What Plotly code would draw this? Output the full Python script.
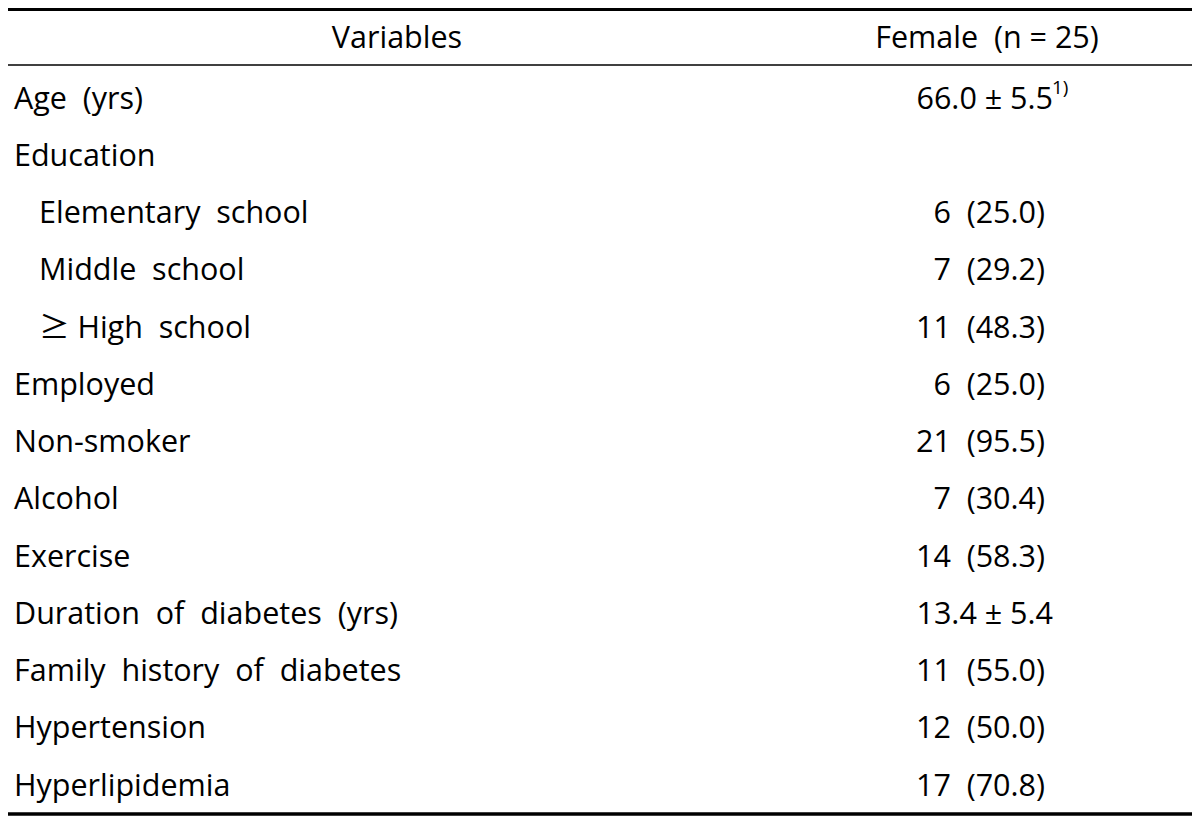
import plotly.graph_objects as go

NB = "\u00a0"
GE = '<span style="font-family:Noto Sans CJK KR">\u2265</span>'

# ---- data ----
header_left = "Variables"
header_right = "Female" + NB * 2 + "(n = 25)"

variables = [
    "Age" + NB * 2 + "(yrs)",
    "Education",
    "Elementary" + NB * 2 + "school",
    "Middle" + NB * 2 + "school",
    GE + NB + "High" + NB * 2 + "school",
    "Employed",
    "Non-smoker",
    "Alcohol",
    "Exercise",
    "Duration" + NB * 2 + "of" + NB * 2 + "diabetes" + NB * 2 + "(yrs)",
    "Family" + NB * 2 + "history" + NB * 2 + "of" + NB * 2 + "diabetes",
    "Hypertension",
    "Hyperlipidemia",
]
indented = [False, False, True, True, True, False, False, False, False, False, False, False, False]

counts = [None, None, 6, 7, 11, 6, 21, 7, 14, None, 11, 12, 17]
percents = [None, None, 25.0, 29.2, 48.3, 25.0, 95.5, 30.4, 58.3, None, 55.0, 50.0, 70.8]
means = [66.0, None, None, None, None, None, None, None, None, 13.4, None, None, None]
sds = [5.5, None, None, None, None, None, None, None, None, 5.4, None, None, None]
mean_notes = ["1)", None, None, None, None, None, None, None, None, None, None, None, None]

# ---- layout constants (page pixel coordinates; plot div sits at an 8px body offset) ----
OFF = 8
ROW_PX = 57.25
FIRST_ROW_PX = 101.0
H = 822
W = 1200
FONT = dict(family="Open Sans", size=30.5, color="black")
NOTE_FONT = dict(family="Open Sans", size=19, color="black")


def px_to_row(p):
    return (p - FIRST_ROW_PX) / ROW_PX


rows = list(range(len(variables)))

fig = go.Figure()

# left column labels
lx = [39 if ind else 14 for ind in indented]
fig.add_trace(go.Scatter(
    x=lx, y=rows, mode="text", text=variables,
    textposition="middle right", textfont=FONT, hoverinfo="skip",
))

# counts (percent)
cr, ct = [], []
for i, (c, p) in enumerate(zip(counts, percents)):
    if c is not None:
        cr.append(i)
        ct.append(f"{c}{NB*2}({p:.1f})")
fig.add_trace(go.Scatter(
    x=[1045] * len(cr), y=cr, mode="text", text=ct,
    textposition="middle left", textfont=FONT, hoverinfo="skip",
))

# mean ± sd
mr, mt, nr, nt = [], [], [], []
for i, (m, s, n) in enumerate(zip(means, sds, mean_notes)):
    if m is not None:
        mr.append(i)
        mt.append(f"{m:.1f} \u00b1 {s:.1f}")
        if n:
            nr.append(i)
            nt.append(n)
fig.add_trace(go.Scatter(
    x=[1053] * len(mr), y=mr, mode="text", text=mt,
    textposition="middle left", textfont=FONT, hoverinfo="skip",
))
# footnote markers (superscript)
fig.add_trace(go.Scatter(
    x=[1052] * len(nr), y=[r - 12.0 / ROW_PX for r in nr], mode="text", text=nt,
    textposition="middle right", textfont=NOTE_FONT, hoverinfo="skip",
))

# header
hy = px_to_row(40)
fig.add_trace(go.Scatter(
    x=[397, 987], y=[hy, hy], mode="text", text=[header_left, header_right],
    textposition="middle center", textfont=FONT, hoverinfo="skip",
))

# rules
fig.add_shape(type="line", x0=4, x1=1197, y0=px_to_row(9.5), y1=px_to_row(9.5),
              line=dict(color="black", width=3))
fig.add_shape(type="line", x0=4, x1=1197, y0=px_to_row(65), y1=px_to_row(65),
              line=dict(color="black", width=1.5))
fig.add_shape(type="line", x0=4, x1=1197, y0=px_to_row(814), y1=px_to_row(814),
              line=dict(color="black", width=3.5))

fig.update_layout(
    width=W, height=H,
    margin=dict(l=0, r=0, t=0, b=0),
    paper_bgcolor="white", plot_bgcolor="white",
    showlegend=False, hovermode=False,
    xaxis=dict(range=[OFF, W + OFF], visible=False, fixedrange=True),
    yaxis=dict(range=[px_to_row(H + OFF), px_to_row(OFF)], visible=False, fixedrange=True),
)

fig.write_html("out.html", config={"displayModeBar": False})
